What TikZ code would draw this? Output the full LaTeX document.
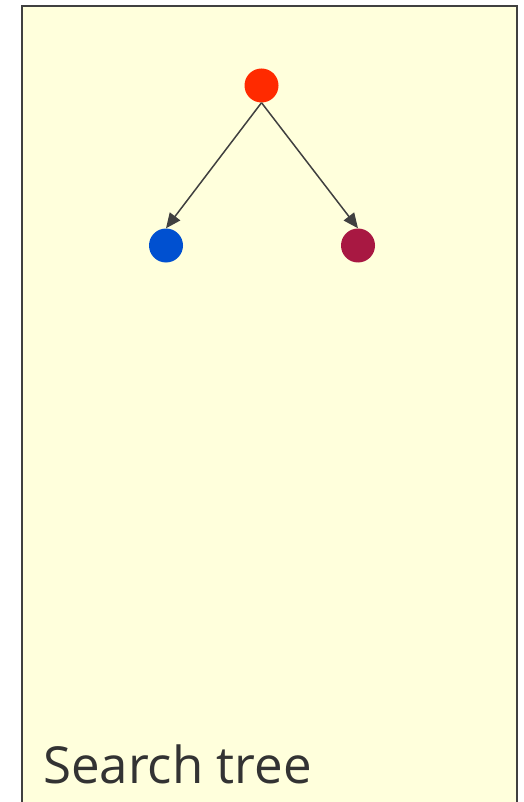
\documentclass[tikz,border=0pt]{standalone}
\usepackage{fontspec}
\setmainfont{Open Sans}
\usetikzlibrary{arrows.meta}
\definecolor{bgyellow}{HTML}{FFFFDC}
\definecolor{edgegray}{HTML}{404040}
\definecolor{rootred}{HTML}{FF2A00}
\definecolor{leftblue}{HTML}{0050D0}
\definecolor{rightmaroon}{HTML}{A81842}
\definecolor{textgray}{HTML}{333333}
\tikzset{
  treenode/.style={circle, inner sep=0pt, minimum size=34pt, draw=none},
  treeedge/.style={draw=edgegray, line width=1.5pt, -{Triangle[length=15pt,width=13pt]}},
  frame/.style={draw=edgegray, line width=2pt, fill=bgyellow},
}
\begin{document}
\begin{tikzpicture}[x=1pt,y=-1pt]
\useasboundingbox (0,0) rectangle (523,802);
\path[frame] (22,6) rectangle (517,812);
\node[treenode, fill=rootred] (r) at (261.5,85.5) {};
\node[treenode, fill=leftblue] (b) at (166,245.5) {};
\node[treenode, fill=rightmaroon] (m) at (358,245.5) {};
\draw[treeedge] (r.south) -- (b.north);
\draw[treeedge] (r.south) -- (m.north);
\node[anchor=base west, inner sep=0pt, text=textgray, font=\fontsize{51}{58}\selectfont] (title) at (43,783) {Search tree};
\end{tikzpicture}
\end{document}
